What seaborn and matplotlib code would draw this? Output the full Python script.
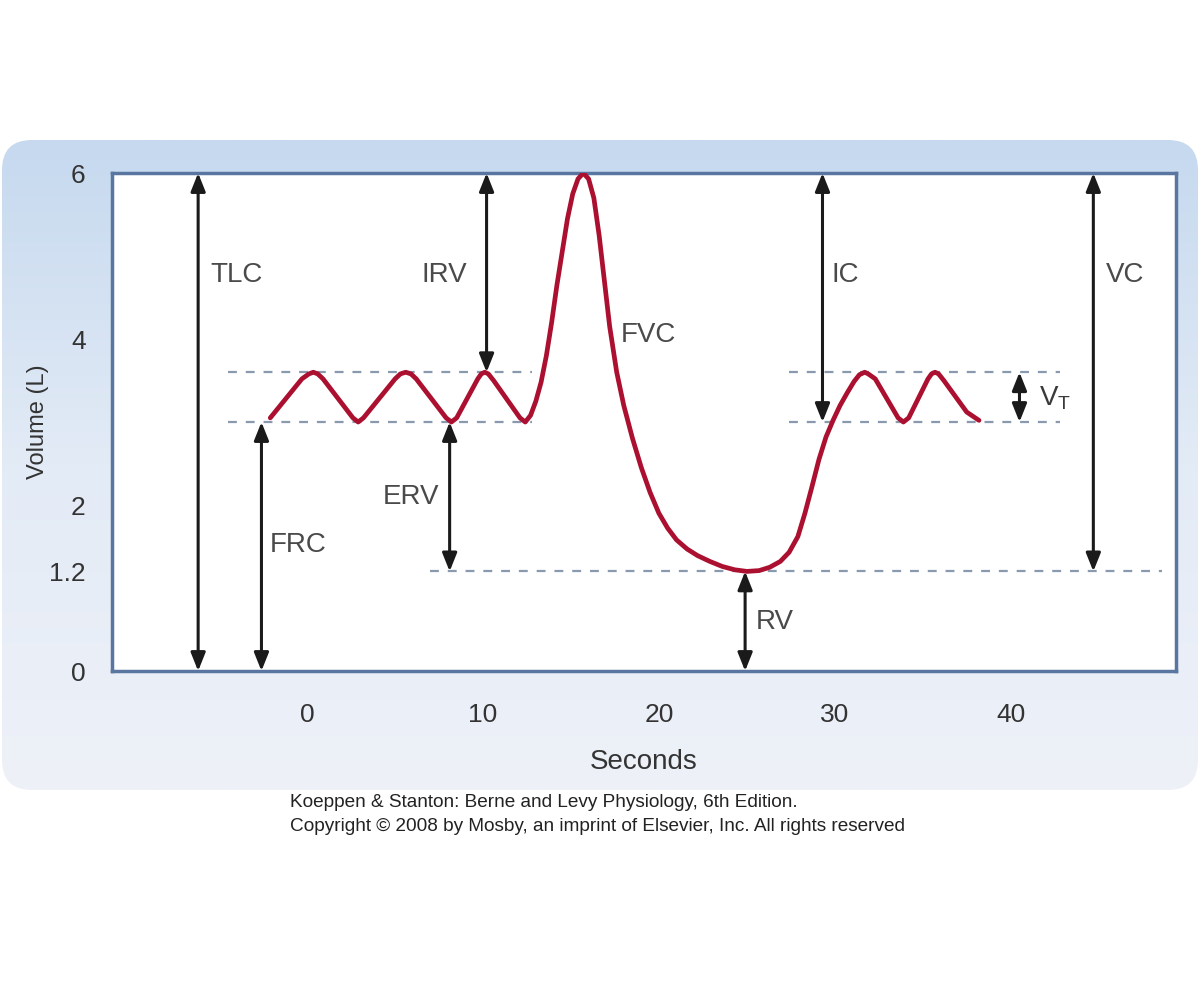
import numpy as np
import matplotlib
matplotlib.use("Agg")
import matplotlib.pyplot as plt
from matplotlib.patches import FancyBboxPatch
from matplotlib.colors import LinearSegmentedColormap
import seaborn as sns

# spirogram trace (seconds, litres)
trace_t = [-2.1, -0.3, 0.1, 0.35, 0.6, 0.9, 2.6, 2.9, 3.2, 5.0, 5.3, 5.6, 5.9, 6.2,
           7.9, 8.2, 8.5, 9.7, 9.9, 10.1, 10.3, 10.6, 12.1, 12.4, 12.7, 13.0,
           13.3, 13.6, 13.9, 14.2, 14.5, 14.8, 15.1, 15.4, 15.7, 16.0, 16.3,
           16.6, 16.9, 17.2, 17.6, 18.0, 18.5, 19.0, 19.5, 20.0, 20.5, 21.0,
           21.6, 22.2, 22.9, 23.6, 24.3, 25.0, 25.7, 26.3, 26.9, 27.4, 27.9,
           28.3, 28.7, 29.1, 29.5, 29.9, 30.3, 30.7, 31.1, 31.4, 31.7, 31.9,
           32.3, 33.6, 33.9, 34.2, 35.3, 35.5, 35.7, 35.9, 36.2, 37.5, 38.2]
trace_v = [3.05, 3.52, 3.58, 3.6, 3.58, 3.52, 3.05, 3.0, 3.05, 3.52, 3.58, 3.6, 3.58, 3.52,
           3.05, 3.0, 3.05, 3.52, 3.58, 3.6, 3.58, 3.5, 3.05, 3.0, 3.08, 3.25,
           3.48, 3.8, 4.2, 4.65, 5.05, 5.45, 5.75, 5.93, 6.0, 5.93, 5.7,
           5.25, 4.7, 4.15, 3.6, 3.2, 2.8, 2.45, 2.15, 1.9, 1.72, 1.58,
           1.47, 1.39, 1.32, 1.26, 1.22, 1.2, 1.21, 1.25, 1.32, 1.43, 1.62,
           1.9, 2.22, 2.55, 2.82, 3.02, 3.2, 3.35, 3.49, 3.57, 3.6, 3.58,
           3.52, 3.05, 3.0, 3.05, 3.52, 3.58, 3.6, 3.58, 3.5, 3.12, 3.02]

# reference levels (litres)
tidal_top = 3.6
tidal_bottom = 3.0
residual = 1.2
total = 6.0

# double arrows: name, x position (s), lower and upper volume
arrow_names = ["TLC", "FRC", "IRV", "ERV", "RV", "IC", "VC", "VT"]
arrow_x = [-6.2, -2.6, 10.2, 8.1, 24.9, 29.3, 44.7, 40.5]
arrow_lo = [0.0, 0.0, 3.6, 1.2, 0.0, 3.0, 1.2, 3.0]
arrow_hi = [6.0, 3.0, 6.0, 3.0, 1.2, 6.0, 6.0, 3.6]

# label texts and where they sit
label_text = ["TLC", "IRV", "FVC", "IC", "VC", "FRC", "ERV", "RV"]
label_x = [-4.0, 7.8, 19.4, 30.6, 46.5, -0.5, 5.9, 26.6]
label_y = [4.77, 4.77, 4.05, 4.77, 4.77, 1.52, 2.1, 0.59]

x_ticks = [0, 10, 20, 30, 40]
y_ticks = [0, 1.2, 2, 4, 6]
y_tick_labels = ["0", "1.2", "2", "4", "6"]

sns.set_style("white")
plt.rcParams["font.family"] = ["Liberation Sans", "DejaVu Sans"]
plt.rcParams["mathtext.fontset"] = "custom"
plt.rcParams["mathtext.rm"] = "Liberation Sans"

fig = plt.figure(figsize=(12, 9.81), dpi=100)
fig.patch.set_facecolor("white")

# light blue rounded panel behind the chart
bg = fig.add_axes([0, 0, 1, 1], zorder=0)
bg.set_xlim(0, 1200)
bg.set_ylim(981, 0)
bg.axis("off")
panel_cmap = LinearSegmentedColormap.from_list("panel", ["#c6d9ef", "#e3ebf6", "#eef1f8"])
grad = np.linspace(0, 1, 256).reshape(-1, 1)
img = bg.imshow(grad, extent=[2, 1198, 790, 140], aspect="auto", cmap=panel_cmap)
panel = FancyBboxPatch((2, 140), 1196, 650, boxstyle="round,pad=0,rounding_size=30",
                       transform=bg.transData, facecolor="none", edgecolor="none")
bg.add_patch(panel)
img.set_clip_path(panel)

ax = fig.add_axes([0.0933, 0.316, 0.8867, 0.5076], zorder=1)
ax.set_facecolor("white")

dash = dict(color="#8a9aae", linestyle=(0, (4, 4)), linewidth=1.6)
ax.hlines([tidal_top, tidal_bottom], -4.5, 12.8, **dash)
ax.hlines([tidal_top, tidal_bottom], 27.4, 42.8, **dash)
ax.hlines(residual, 7.0, 48.6, **dash)

sns.lineplot(x=trace_t, y=trace_v, ax=ax, sort=False, color="#ac1030",
             linewidth=3.4, solid_capstyle="round", solid_joinstyle="round", zorder=3)

for name, x, lo, hi in zip(arrow_names, arrow_x, arrow_lo, arrow_hi):
    ax.annotate("", xy=(x, hi), xytext=(x, lo),
                arrowprops=dict(arrowstyle="<|-|>,head_length=0.55,head_width=0.22",
                                color="#1a1a1a", lw=2.2, mutation_scale=20,
                                shrinkA=0, shrinkB=0), zorder=4)

for t, x, y in zip(label_text, label_x, label_y):
    ax.text(x, y, t, fontsize=20, color="#4a4a4a", ha="center", va="center")
ax.text(41.6, 3.29, r"V$_{\mathrm{T}}$", fontsize=20, color="#3a3a3a", ha="left", va="center")

ax.set_xlim(-11.1, 49.4)
ax.set_ylim(0, total)
ax.set_xticks(x_ticks)
ax.set_yticks(y_ticks)
ax.set_yticklabels(y_tick_labels)
ax.tick_params(direction="out", length=11, width=2, color="#9fb3cc",
               labelsize=19, labelcolor="#333333")
ax.tick_params(axis="x", pad=12)
ax.tick_params(axis="y", pad=8)
for s in ax.spines.values():
    s.set_visible(True)
    s.set_color("#5876a0")
    s.set_linewidth(2.5)

ax.set_xlabel("Seconds", fontsize=20, color="#333333", labelpad=16)
ax.set_ylabel("Volume (L)", fontsize=17, color="#333333", labelpad=0)

fig.text(0.2417, 0.1815, "Koeppen & Stanton: Berne and Levy Physiology, 6th Edition.",
         fontsize=13.7, color="#222222", va="center")
fig.text(0.2417, 0.158, "Copyright \u00a9 2008 by Mosby, an imprint of Elsevier, Inc. All rights reserved",
         fontsize=13.7, color="#222222", va="center")

fig.savefig("out.png", dpi=100, facecolor="white")
